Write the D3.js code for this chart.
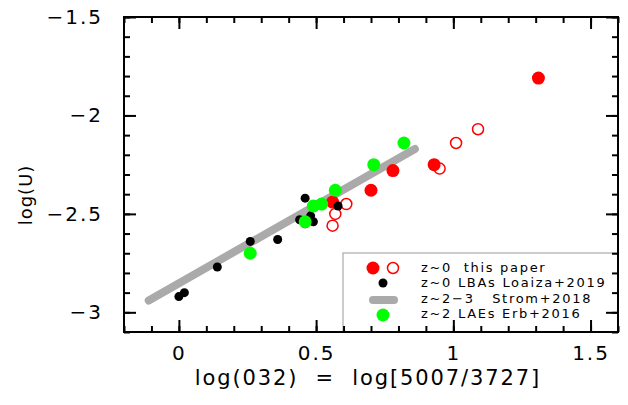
<!DOCTYPE html>
<html>
<head>
<meta charset="utf-8">
<script src="https://cdn.jsdelivr.net/npm/d3@7"></script>
<style>
  body { margin: 0; background: #fff; }
  svg text { font-family: "DejaVu Sans", sans-serif; white-space: pre; fill: #000; }
</style>
</head>
<body>
<div id="chart"></div>
<script>
// z~0 this paper (filled)
const paperX = [1.31, 0.93, 0.78, 0.70, 0.56]
const paperY = [-1.81, -2.25, -2.28, -2.38, -2.44]
// z~0 this paper (open)
const paperOpenX = [1.09, 1.01, 0.95, 0.61, 0.57, 0.56]
const paperOpenY = [-2.07, -2.14, -2.27, -2.45, -2.50, -2.56]
// z~0 LBAs Loaiza+2019
const lbaX = [0.00, 0.02, 0.14, 0.26, 0.36, 0.46, 0.44, 0.48, 0.49, 0.58, 0.46]
const lbaY = [-2.92, -2.90, -2.77, -2.64, -2.63, -2.42, -2.53, -2.51, -2.54, -2.46, -2.55]
// z~2 LAEs Erb+2016
const laeX = [0.26, 0.46, 0.49, 0.52, 0.57, 0.71, 0.82]
const laeY = [-2.70, -2.54, -2.46, -2.45, -2.38, -2.25, -2.14]
// z~2-3 Strom+2018 relation (end points)
const stromX = [-0.11, 0.86]
const stromY = [-2.94, -2.17]

const xTicks = [0, 0.5, 1, 1.5]
const xTickLabels = ["0", "0.5", "1", "1.5"]
const yTicks = [-1.5, -2, -2.5, -3]
const yTickLabels = ["\u22121.5", "\u22122", "\u22122.5", "\u22123"]

const legendLabels = ["z~0  this paper", "z~0 LBAs Loaiza+2019", "z~2\u22123   Strom+2018", "z~2 LAEs Erb+2016"]

const margin = { top: 17, right: 10, bottom: 73, left: 124 },
    width = 628 - margin.left - margin.right,
    height = 405 - margin.top - margin.bottom

const svg = d3.select("#chart").append("svg")
    .attr("width", 628)
    .attr("height", 405)

const g = svg.append("g")
    .attr("transform", "translate(" + margin.left + "," + margin.top + ")")

const x = d3.scaleLinear().domain([-0.2, 1.6]).range([0, width])
const y = d3.scaleLinear().domain([-3.1, -1.5]).range([height, 0])

const minorX = d3.range(-2, 17).map(d => d / 10)
const minorY = d3.range(-31, -14).map(d => d / 10)

// strom line under the points
g.append("line")
    .attr("x1", x(stromX[0])).attr("y1", y(stromY[0]))
    .attr("x2", x(stromX[1])).attr("y2", y(stromY[1]))
    .attr("stroke", "#aaaaaa")
    .attr("stroke-width", 8)
    .attr("stroke-linecap", "round")

const pts = (xs, ys) => xs.map((v, i) => ({ x: v, y: ys[i] }))

g.selectAll(".paper").data(pts(paperX, paperY)).join("circle")
    .attr("cx", d => x(d.x)).attr("cy", d => y(d.y)).attr("r", 6.5)
    .attr("fill", "#ff0000")

g.selectAll(".paperOpen").data(pts(paperOpenX, paperOpenY)).join("circle")
    .attr("cx", d => x(d.x)).attr("cy", d => y(d.y)).attr("r", 5.5)
    .attr("fill", "none").attr("stroke", "#ff0000").attr("stroke-width", 1.5)

g.selectAll(".lba").data(pts(lbaX, lbaY)).join("circle")
    .attr("cx", d => x(d.x)).attr("cy", d => y(d.y)).attr("r", 4.5)
    .attr("fill", "#000")

g.selectAll(".lae").data(pts(laeX, laeY)).join("circle")
    .attr("cx", d => x(d.x)).attr("cy", d => y(d.y)).attr("r", 6.5)
    .attr("fill", "#00ff00")

// legend box
const lg = g.append("g").attr("transform", "translate(219,236)")
lg.append("rect")
    .attr("width", width - 219).attr("height", height - 236)
    .attr("fill", "#fff").attr("stroke", "#999").attr("stroke-width", 1)
lg.append("circle").attr("cx", 30).attr("cy", 15).attr("r", 6.5).attr("fill", "#ff0000")
lg.append("circle").attr("cx", 50).attr("cy", 15).attr("r", 5.5)
    .attr("fill", "none").attr("stroke", "#ff0000").attr("stroke-width", 1.5)
lg.append("circle").attr("cx", 40).attr("cy", 30).attr("r", 4.5).attr("fill", "#000")
lg.append("line").attr("x1", 30).attr("x2", 51).attr("y1", 47).attr("y2", 47)
    .attr("stroke", "#aaaaaa").attr("stroke-width", 8).attr("stroke-linecap", "round")
lg.append("circle").attr("cx", 40).attr("cy", 62).attr("r", 6.5).attr("fill", "#00ff00")
lg.selectAll("text").data(legendLabels).join("text")
    .attr("x", 78).attr("y", (d, i) => 19 + i * 15.4)
    .attr("font-size", 13).attr("letter-spacing", 1.7)
    .text(d => d)

// frame
g.append("rect").attr("width", width).attr("height", height)
    .attr("fill", "none").attr("stroke", "#000").attr("stroke-width", 2)

function ticks(axis, size) {
    return axis.tickSizeInner(-size).tickSizeOuter(0).tickFormat("")
}
const axes = [
    [d3.axisBottom(x).tickValues(minorX), 6, "translate(0," + height + ")"],
    [d3.axisBottom(x).tickValues(xTicks), 12, "translate(0," + height + ")"],
    [d3.axisTop(x).tickValues(minorX), 6, null],
    [d3.axisTop(x).tickValues(xTicks), 12, null],
    [d3.axisLeft(y).tickValues(minorY), 6, null],
    [d3.axisLeft(y).tickValues(yTicks), 12, null],
    [d3.axisRight(y).tickValues(minorY), 6, "translate(" + width + ",0)"],
    [d3.axisRight(y).tickValues(yTicks), 12, "translate(" + width + ",0)"]
]
axes.forEach(([a, s, t]) => {
    const ag = g.append("g").attr("transform", t).call(ticks(a, s))
    ag.select(".domain").remove()
    ag.selectAll("line").attr("stroke", "#000").attr("stroke-width", 2)
})

// tick labels
g.append("g")
    .attr("transform", "translate(0," + height + ")")
    .call(d3.axisBottom(x).tickValues(xTicks).tickSize(0).tickPadding(14)
        .tickFormat((d, i) => xTickLabels[i]))
    .call(a => a.select(".domain").remove())
    .selectAll("text").attr("font-size", 20).attr("letter-spacing", 2)
    .style("font-family", "DejaVu Sans")

g.append("g")
    .call(d3.axisLeft(y).tickValues(yTicks).tickSize(0).tickPadding(21)
        .tickFormat((d, i) => yTickLabels[i]))
    .call(a => a.select(".domain").remove())
    .selectAll("text").attr("font-size", 20).attr("letter-spacing", 2)
    .style("font-family", "DejaVu Sans")

// axis titles
svg.append("text")
    .attr("x", 368).attr("y", 385)
    .attr("text-anchor", "middle")
    .attr("font-size", 21).attr("letter-spacing", 1.9)
    .text("log(032)  =  log[5007/3727]")

svg.append("text")
    .attr("transform", "translate(32,195) rotate(-90)")
    .attr("text-anchor", "middle")
    .attr("font-size", 18).attr("letter-spacing", 1)
    .text("log(U)")
</script>
</body>
</html>
